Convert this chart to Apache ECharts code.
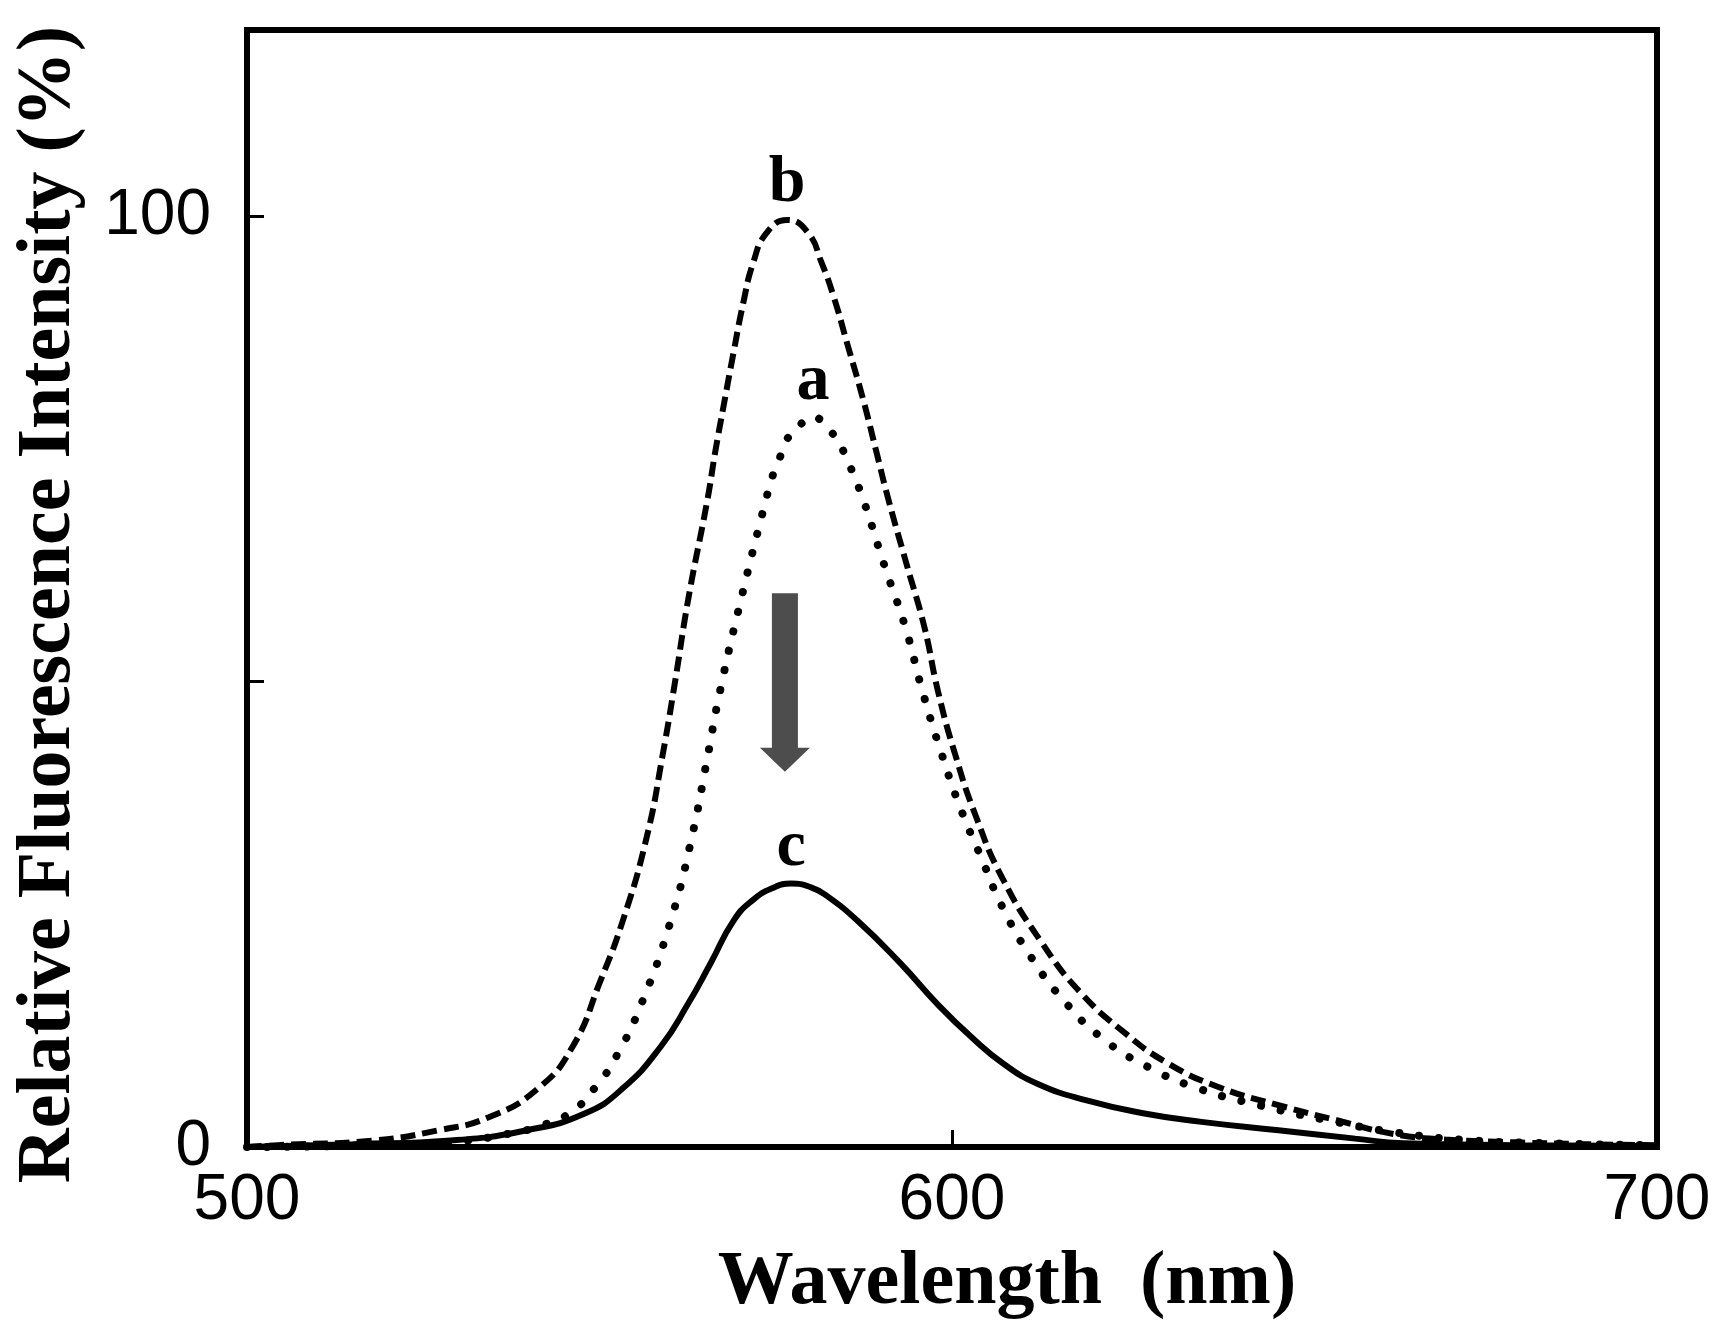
<!DOCTYPE html>
<html>
<head>
<meta charset="utf-8">
<title>Relative Fluorescence Intensity</title>
<script src="https://cdn.jsdelivr.net/npm/echarts@6/dist/echarts.min.js"></script>
<style>
  html, body { margin: 0; padding: 0; background: #fff; }
  #main { width: 1721px; height: 1339px; }
</style>
</head>
<body>
<div id="main"></div>
<script>
// wavelength (nm) / relative intensity (%)
var curveA = [ // dotted
  [500, 0], [520, 0.2], [530, 0.6], [537, 1.4], [541.3, 2.2], [545.7, 3.6], [549.5, 6.5],
  [552.5, 9.9], [555.9, 15.3], [560.1, 24.3], [563.1, 33.3], [565.2, 41.4], [567.1, 49.0],
  [570.1, 58.9], [573.6, 69.5], [574.6, 72.2], [575.6, 74.1], [576.5, 75.9], [578.2, 77.4],
  [580.3, 78.4], [582.5, 77.1], [583.9, 75.7], [585.1, 73.9], [586.2, 71.9], [587.4, 69.6],
  [590.4, 62.5], [593.4, 55.8], [595.8, 49.0], [598.5, 42.3], [601.2, 36.4], [604.2, 31.0],
  [607.2, 25.7], [611.3, 20.3], [615.9, 15.7], [621.3, 11.7], [627.8, 8.6], [634.9, 6.3],
  [643.5, 4.5], [654.4, 2.7], [662.6, 1.6], [672, 0.8], [685, 0.4], [700, 0.2]
];
var curveB = [ // dashed
  [500, 0], [504.4, 0.2], [518, 0.7], [527.2, 1.8], [534.3, 3.2], [541.3, 6.3], [546.2, 10.8],
  [550.0, 17.6], [553.3, 24.3], [556.7, 33.3], [559.0, 42.3], [560.7, 49.9], [562.6, 58.9],
  [565.3, 69.5], [566.4, 74.6], [567.6, 79.6], [569.0, 85.3], [570.4, 90.7], [571.8, 95.0],
  [573.7, 98.2], [576.6, 99.6], [579.6, 98.2], [581.5, 95.0], [583.2, 91.4], [585.1, 86.4],
  [587.4, 80.3], [589.3, 74.6], [591.0, 69.5], [593.6, 62.5], [596.1, 55.8], [598.0, 49.0],
  [600.4, 42.3], [603.4, 35.5], [607.2, 28.8], [612.6, 22.1], [618.1, 16.7], [624.6, 12.2],
  [630.6, 9.0], [637.6, 6.5], [646.3, 4.5], [655.5, 2.7], [662.6, 1.4], [670, 0.8],
  [680, 0.5], [690, 0.3], [700, 0.2]
];
var curveC = [ // solid
  [500, 0], [515, 0.3], [528.9, 0.7], [539.7, 1.8], [547.9, 3.6], [553.3, 6.3], [558.7, 10.8],
  [562.5, 15.3], [565.8, 19.8], [569.0, 24.3], [571.7, 26.5], [574.5, 27.8], [577.2, 28.3],
  [580, 27.9], [582.2, 27.0], [586.6, 24.3], [592.6, 19.8], [598.0, 15.3], [602.9, 11.7],
  [607.2, 9.0], [612.1, 6.8], [619.1, 5.0], [627.3, 3.6], [635.4, 2.7], [646.3, 1.8],
  [657.2, 0.9], [664, 0.4], [680, 0.2], [700, 0.1]
];
var curveNames = ['a', 'b', 'c'];
var yTickLabels = ['0', '100'];
// downward arrow: wavelength, start value, tip value
var arrowData = [[576.3, 59.5, 40.3]];

var serif = '"Liberation Serif", "Times New Roman", serif';
var sans = '"Liberation Sans", Arial, Helvetica, sans-serif';

function peakLabel(name) {
  return {
    symbol: 'circle',
    symbolSize: 1,
    itemStyle: { color: 'rgba(0,0,0,0)' },
    label: {
      show: true,
      position: 'top',
      distance: 2,
      formatter: name,
      color: '#000',
      fontFamily: serif,
      fontWeight: 'bold',
      fontSize: 66
    },
    data: [{ type: 'max' }]
  };
}

var chart = echarts.init(document.getElementById('main'));

var option = {
  backgroundColor: '#fff',
  animation: false,
  grid: {
    left: 247, right: 64, top: 30, bottom: 192,
    show: true, borderColor: '#000', borderWidth: 6, backgroundColor: 'transparent'
  },
  xAxis: {
    type: 'value',
    min: 500, max: 700, interval: 100,
    name: 'Wavelength  (nm)',
    nameLocation: 'middle',
    nameGap: 98,
    nameTextStyle: {
      fontFamily: serif, fontWeight: 'bold', fontSize: 76, color: '#000',
      padding: [0, 0, 0, 110]
    },
    axisLine: { show: false },
    splitLine: { show: false },
    axisTick: { inside: true, length: 17, lineStyle: { color: '#000', width: 3 } },
    axisLabel: { margin: 22, fontFamily: sans, fontSize: 64, color: '#000' }
  },
  yAxis: {
    type: 'value',
    min: 0, max: 120, interval: 50,
    name: 'Relative Fluorescence Intensity (%)',
    nameLocation: 'middle',
    nameGap: 160,
    nameTextStyle: {
      fontFamily: serif, fontWeight: 'bold', fontSize: 76, color: '#000',
      padding: [0, 32, 0, 0]
    },
    axisLine: { show: false },
    splitLine: { show: false },
    axisTick: { inside: true, length: 17, lineStyle: { color: '#000', width: 3 } },
    axisLabel: {
      margin: 36, fontFamily: sans, fontSize: 64, color: '#000',
      formatter: function (v) {
        return yTickLabels.indexOf(String(v)) >= 0 ? String(v) : '';
      }
    }
  },
  series: [
    {
      name: curveNames[0], type: 'line', data: curveA, smooth: 0.5,
      showSymbol: false,
      lineStyle: { color: '#000', width: 8, type: [0.1, 20], cap: 'round' },
      markPoint: peakLabel(curveNames[0])
    },
    {
      name: curveNames[1], type: 'line', data: curveB, smooth: 0.5,
      showSymbol: false,
      lineStyle: { color: '#000', width: 6, type: [15, 7] },
      markPoint: peakLabel(curveNames[1])
    },
    {
      name: curveNames[2], type: 'line', data: curveC, smooth: 0.5,
      showSymbol: false,
      lineStyle: { color: '#000', width: 6 },
      markPoint: peakLabel(curveNames[2])
    },
    {
      type: 'custom',
      data: arrowData,
      renderItem: function (params, api) {
        var top = api.coord([api.value(0), api.value(1)]);
        var tip = api.coord([api.value(0), api.value(2)]);
        var headLen = 24, shaftHalf = 13, headHalf = 25;
        var x = top[0];
        var hy = tip[1] - headLen;
        return {
          type: 'polygon',
          shape: {
            points: [
              [x - shaftHalf, top[1]], [x + shaftHalf, top[1]], [x + shaftHalf, hy],
              [x + headHalf, hy], [x, tip[1]], [x - headHalf, hy], [x - shaftHalf, hy]
            ]
          },
          style: { fill: '#4d4d4d' }
        };
      }
    }
  ]
};

chart.setOption(option);
</script>
</body>
</html>
